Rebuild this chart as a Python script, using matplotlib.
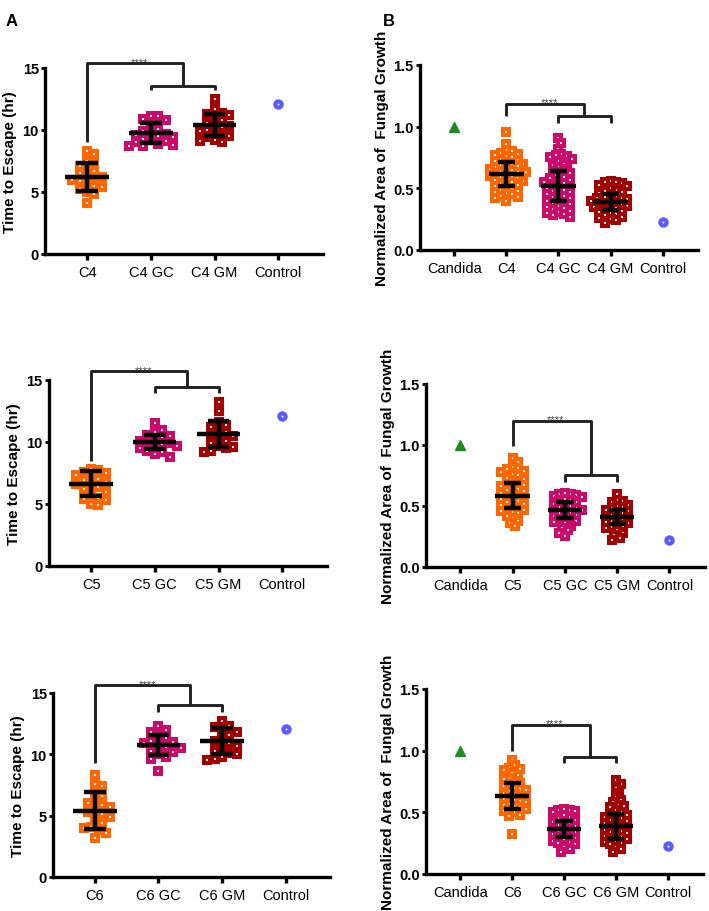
import numpy as np
import matplotlib
matplotlib.use("Agg")
import matplotlib.pyplot as plt

plt.rcParams['font.family'] = ['Liberation Sans', 'DejaVu Sans']

# ---------------- data ----------------
escape_categories = [["C4", "C4 GC", "C4 GM", "Control"],
                     ["C5", "C5 GC", "C5 GM", "Control"],
                     ["C6", "C6 GC", "C6 GM", "Control"]]
growth_categories = [["Candida", "C4", "C4 GC", "C4 GM", "Control"],
                     ["Candida", "C5", "C5 GC", "C5 GM", "Control"],
                     ["Candida", "C6", "C6 GC", "C6 GM", "Control"]]

esc_c4 = [8.3, 8.1, 7.5, 7.3, 7.1, 6.9, 6.7, 6.5, 6.3, 6.2, 6.1, 6.0, 5.9, 5.7, 5.5, 5.4, 5.2, 5.0, 4.8, 4.1]
esc_c4gc = [11.1, 11.1, 10.9, 10.8, 10.4, 10.1, 9.9, 9.8, 9.7, 9.6, 9.5, 9.4, 9.3, 9.2, 9.1, 9.0, 8.9, 8.8, 8.7, 8.7]
esc_c4gm = [12.5, 11.7, 11.4, 11.3, 11.2, 11.0, 10.8, 10.6, 10.4, 10.3, 10.2, 10.0, 9.9, 9.8, 9.6, 9.5, 9.4, 9.2, 9.1, 9.0]
esc_c5 = [7.8, 7.7, 7.6, 7.5, 7.3, 7.1, 7.0, 6.9, 6.8, 6.6, 6.5, 6.4, 6.2, 6.0, 5.8, 5.5, 5.4, 5.3, 5.0, 4.9]
esc_c5gc = [11.5, 11.0, 10.8, 10.6, 10.5, 10.4, 10.2, 10.1, 10.0, 9.9, 9.8, 9.7, 9.6, 9.5, 9.3, 9.2, 9.0, 8.8]
esc_c5gm = [13.2, 12.5, 11.6, 11.4, 11.2, 11.0, 10.8, 10.6, 10.5, 10.3, 10.1, 9.9, 9.7, 9.6, 9.5, 9.3, 9.2]
esc_c6 = [8.3, 7.6, 7.4, 6.9, 6.6, 6.2, 6.0, 5.9, 5.7, 5.5, 5.3, 5.1, 4.9, 4.7, 4.4, 4.1, 4.0, 3.8, 3.6, 3.2]
esc_c6gc = [12.3, 12.0, 11.8, 11.5, 11.3, 11.1, 11.0, 10.9, 10.8, 10.6, 10.5, 10.3, 10.2, 10.0, 9.8, 9.6, 8.6]
esc_c6gm = [12.7, 12.3, 12.2, 12.0, 11.8, 11.6, 11.3, 11.1, 10.9, 10.7, 10.5, 10.3, 10.1, 10.0, 9.8, 9.6, 9.5]
esc_control = [12.1]

esc_means = [[6.2, 9.75, 10.4, 12.1], [6.65, 10.0, 10.63, 12.1], [5.4, 10.75, 11.1, 12.1]]
esc_sds = [[1.1, 0.8, 0.9, 0.0], [0.98, 0.6, 1.07, 0.0], [1.5, 0.82, 1.05, 0.0]]

gr_candida = [1.0]
gr_c4 = [0.96, 0.86, 0.81, 0.80, 0.79, 0.78, 0.77, 0.76, 0.75, 0.74, 0.73, 0.72, 0.71, 0.70, 0.70, 0.69,
         0.68, 0.67, 0.66, 0.66, 0.65, 0.64, 0.63, 0.63, 0.62, 0.61, 0.60, 0.60, 0.59, 0.58, 0.57, 0.56,
         0.56, 0.55, 0.54, 0.53, 0.52, 0.51, 0.50, 0.49, 0.48, 0.47, 0.46, 0.45, 0.44, 0.43, 0.42, 0.40]
gr_c4gc = [0.91, 0.87, 0.82, 0.78, 0.77, 0.76, 0.75, 0.74, 0.72, 0.70, 0.69, 0.67, 0.66, 0.64, 0.63, 0.62,
           0.60, 0.59, 0.58, 0.57, 0.56, 0.55, 0.54, 0.53, 0.52, 0.51, 0.50, 0.49, 0.48, 0.47, 0.46, 0.45,
           0.44, 0.43, 0.42, 0.41, 0.40, 0.39, 0.38, 0.37, 0.36, 0.35, 0.34, 0.33, 0.32, 0.31, 0.30, 0.29,
           0.28, 0.27]
gr_c4gm = [0.56, 0.55, 0.55, 0.54, 0.53, 0.52, 0.50, 0.49, 0.48, 0.47, 0.46, 0.45, 0.44, 0.43, 0.42, 0.42,
           0.41, 0.40, 0.40, 0.39, 0.38, 0.38, 0.37, 0.36, 0.35, 0.35, 0.34, 0.33, 0.32, 0.31, 0.30, 0.29,
           0.28, 0.27, 0.26, 0.25, 0.24, 0.22]
gr_c5 = [0.89, 0.86, 0.82, 0.81, 0.80, 0.79, 0.78, 0.76, 0.75, 0.73, 0.72, 0.70, 0.69, 0.68, 0.67, 0.66,
         0.65, 0.64, 0.63, 0.62, 0.61, 0.60, 0.59, 0.58, 0.57, 0.56, 0.55, 0.54, 0.53, 0.52, 0.51, 0.50,
         0.49, 0.48, 0.47, 0.46, 0.45, 0.44, 0.42, 0.40, 0.38, 0.36, 0.34]
gr_c5gc = [0.61, 0.60, 0.60, 0.59, 0.58, 0.57, 0.56, 0.55, 0.54, 0.53, 0.52, 0.51, 0.50, 0.49, 0.48, 0.47,
           0.47, 0.46, 0.45, 0.44, 0.43, 0.42, 0.41, 0.40, 0.39, 0.38, 0.37, 0.36, 0.34, 0.32, 0.30, 0.28, 0.25]
gr_c5gm = [0.60, 0.55, 0.54, 0.53, 0.51, 0.50, 0.49, 0.48, 0.47, 0.46, 0.45, 0.44, 0.43, 0.42, 0.41, 0.40,
           0.39, 0.38, 0.37, 0.36, 0.35, 0.34, 0.33, 0.32, 0.30, 0.28, 0.26, 0.24, 0.22]
gr_c6 = [0.92, 0.88, 0.86, 0.85, 0.84, 0.82, 0.80, 0.78, 0.77, 0.75, 0.74, 0.72, 0.71, 0.70, 0.69, 0.68,
         0.67, 0.66, 0.65, 0.64, 0.63, 0.62, 0.61, 0.60, 0.59, 0.58, 0.57, 0.56, 0.55, 0.54, 0.53, 0.52,
         0.51, 0.50, 0.48, 0.47, 0.32]
gr_c6gc = [0.53, 0.52, 0.52, 0.51, 0.50, 0.48, 0.46, 0.45, 0.44, 0.43, 0.42, 0.41, 0.40, 0.39, 0.38, 0.37,
           0.36, 0.35, 0.34, 0.33, 0.32, 0.31, 0.30, 0.29, 0.28, 0.27, 0.26, 0.25, 0.24, 0.22, 0.20, 0.18]
gr_c6gm = [0.76, 0.73, 0.70, 0.66, 0.62, 0.60, 0.58, 0.56, 0.55, 0.54, 0.52, 0.50, 0.49, 0.48, 0.47, 0.46,
           0.45, 0.44, 0.43, 0.42, 0.41, 0.40, 0.39, 0.38, 0.37, 0.36, 0.35, 0.34, 0.33, 0.32, 0.31, 0.30,
           0.29, 0.28, 0.27, 0.26, 0.25, 0.24, 0.22, 0.20, 0.18]
gr_control = [0.22]

gr_means = [[1.0, 0.615, 0.52, 0.39, 0.22], [1.0, 0.585, 0.468, 0.41, 0.22], [1.0, 0.63, 0.365, 0.385, 0.23]]
gr_sds = [[0.0, 0.095, 0.12, 0.064, 0.0], [0.0, 0.1, 0.067, 0.06, 0.0], [0.0, 0.105, 0.065, 0.1, 0.0]]

escape_groups = [[esc_c4, esc_c4gc, esc_c4gm, esc_control],
                 [esc_c5, esc_c5gc, esc_c5gm, esc_control],
                 [esc_c6, esc_c6gc, esc_c6gm, esc_control]]
growth_groups = [[gr_candida, gr_c4, gr_c4gc, gr_c4gm, [0.225]],
                 [gr_candida, gr_c5, gr_c5gc, gr_c5gm, gr_control],
                 [gr_candida, gr_c6, gr_c6gc, gr_c6gm, [0.23]]]

# ---------------- style ----------------
ORANGE = '#FF6600'
MAGENTA = '#CC0A6A'
DARKRED = '#A30000'
GREEN = '#1E8C1E'
BLUE = '#5B5BFF'

fig = plt.figure(figsize=(7.09, 9.12), dpi=100)

axA_rects = [(0.0635, 0.7204, 0.392, 0.204), (0.0691, 0.3783, 0.392, 0.204), (0.0748, 0.0373, 0.3907, 0.2018)]
axB_rects = [(0.5924, 0.7248, 0.392, 0.2029), (0.6008, 0.3772, 0.3935, 0.2007), (0.6008, 0.0406, 0.3907, 0.2029)]

brA = [(9.0, 15.4, 13.55, 13.2), (8.5, 15.7, 14.4, 13.95), (9.3, 15.65, 14.0, 13.45)]
brB = [(1.09, 1.18, 1.085, 1.03), (0.99, 1.197, 0.754, 0.70), (1.0, 1.21, 0.95, 0.90)]


def swarm_offsets(ax, x0, vals, dist_px, step_frac):
    vals = np.asarray(vals, float)
    pts = ax.transData.transform(np.column_stack([np.full(len(vals), x0), vals]))
    ypx = pts[:, 1]
    xc = pts[0, 0]
    order = np.argsort(-ypx)
    placed = []
    xs = np.zeros(len(vals))
    for i in order:
        y = ypx[i]
        k = 0
        while True:
            cands = [0.0] if k == 0 else [k * dist_px * step_frac, -k * dist_px * step_frac]
            ok_x = None
            for cx in cands:
                good = True
                for (px, py) in placed:
                    if (px - cx) ** 2 + (py - y) ** 2 < dist_px ** 2:
                        good = False
                        break
                if good:
                    ok_x = cx
                    break
            if ok_x is not None:
                break
            k += 1
        placed.append((ok_x, y))
        xs[i] = ok_x
    inv = ax.transData.inverted()
    data = inv.transform(np.column_stack([xc + xs, ypx]))
    return data[:, 0]


def style_axes(ax, ymax, ystep, yfmt, xlabels, ylabel, pad):
    for s in ['top', 'right']:
        ax.spines[s].set_visible(False)
    for s in ['left', 'bottom']:
        ax.spines[s].set_linewidth(2.4)
    ax.set_ylim(0, ymax)
    ax.set_yticks(np.arange(0, ymax + ystep / 2, ystep))
    ax.set_yticklabels([yfmt.format(v) for v in np.arange(0, ymax + ystep / 2, ystep)],
                       fontsize=10.5, fontweight='bold')
    ax.set_xticks(range(len(xlabels)))
    ax.set_xticklabels(xlabels, fontsize=10.5)
    ax.tick_params(axis='y', length=3, width=2, pad=1.5)
    ax.tick_params(axis='x', length=4, width=2.4, pad=4)
    ax.set_ylabel(ylabel, fontsize=11, fontweight='bold', labelpad=pad)


def draw_groups(ax, groups, means, sds, colors, markers, dist, step_frac, half_mean, half_cap):
    for i, (vals, c, m) in enumerate(zip(groups, colors, markers)):
        if len(vals) > 1:
            xs = swarm_offsets(ax, i, vals, dist, step_frac)
        else:
            xs = [i] * len(vals)
        if m == 's':
            ax.plot(xs, vals, ls='none', marker='s', ms=4.4, mfc='white', mec=c, mew=2.9, zorder=3)
        elif m == '^':
            ax.plot(xs, vals, ls='none', marker='^', ms=7.5, mfc=c, mec=c, zorder=3)
        else:
            ax.plot(xs, vals, ls='none', marker='o', ms=4.5, mfc='white', mec=c, mew=3, zorder=3)
        if sds[i] > 0:
            mu, sd = means[i], sds[i]
            ax.plot([i - half_mean, i + half_mean], [mu, mu], color='black', lw=3.2, zorder=5, solid_capstyle='butt')
            ax.plot([i, i], [mu - sd, mu + sd], color='black', lw=3.2, zorder=5, solid_capstyle='butt')
            for yv in (mu - sd, mu + sd):
                ax.plot([i - half_cap, i + half_cap], [yv, yv], color='black', lw=3.2, zorder=5, solid_capstyle='butt')


def bracket(ax, a, b1, b2, start, top, second, tickbot, ytxt_off):
    mid = (b1 + b2) / 2
    kw = dict(color='#222222', lw=2.1, clip_on=False, zorder=4, solid_capstyle='butt')
    ax.plot([a, a, mid, mid], [start, top, top, second], **kw)
    ax.plot([b1, b1, b2, b2], [tickbot, second, second, tickbot], **kw)
    ax.text((a + mid) / 2 + 0.07, top + ytxt_off, '****', ha='center', va='bottom', fontsize=8,
            color='#444444', clip_on=False)


for r in range(3):
    ax = fig.add_axes(axA_rects[r])
    ax.set_xlim(-0.66, 3.7)
    style_axes(ax, 15, 5, '{:.0f}', escape_categories[r], 'Time to Escape (hr)', 4)
    draw_groups(ax, escape_groups[r], esc_means[r], esc_sds[r],
                [ORANGE, MAGENTA, DARKRED, BLUE], ['s', 's', 's', 'o'], 7.4, 0.5, 0.34, 0.17)
    s, t, sec, tb = brA[r]
    bracket(ax, 0, 1, 2, s, t, sec, tb, -0.3)

    axb = fig.add_axes(axB_rects[r])
    axb.set_xlim(-0.66, 4.68)
    style_axes(axb, 1.5, 0.5, '{:.1f}', growth_categories[r], 'Normalized Area of  Fungal Growth', 3)
    draw_groups(axb, growth_groups[r], gr_means[r], gr_sds[r],
                [GREEN, ORANGE, MAGENTA, DARKRED, BLUE], ['^', 's', 's', 's', 'o'], 5.6, 0.5, 0.33, 0.165)
    s, t, sec, tb = brB[r]
    bracket(axb, 1, 2, 3, s, t, sec, tb, -0.025)

fig.text(0.008, 0.985, 'A', fontsize=12, fontweight='bold', va='top')
fig.text(0.54, 0.985, 'B', fontsize=12, fontweight='bold', va='top')

fig.savefig('out.png', dpi=100)
